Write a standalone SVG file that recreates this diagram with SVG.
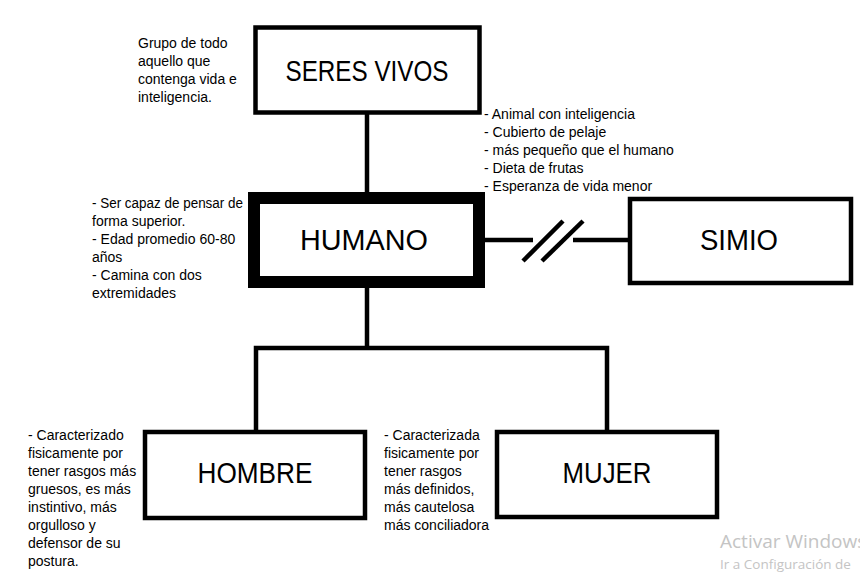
<svg xmlns="http://www.w3.org/2000/svg" width="860" height="583" viewBox="0 0 860 583">
<style>
.box{fill:#fff;stroke:#000;stroke-width:4.5}
.thick{fill:#fff;stroke:#000;stroke-width:12}
.lbl{font-family:"Liberation Sans",Arial,sans-serif;font-size:29px;fill:#000;text-anchor:middle}
.note{font-family:"Liberation Sans",Arial,sans-serif;font-size:14px;fill:#000}
.conn{stroke:#000;stroke-width:4.5;fill:none}
.wm1{font-family:"Open Sans","Liberation Sans",sans-serif;font-size:19px;fill:#c4c4c4}
.wm2{font-family:"Open Sans","Liberation Sans",sans-serif;font-size:13.5px;fill:#c4c4c4}
</style>
<rect width="860" height="583" fill="#fff"/>
<g id="connectors">
<line class="conn" x1="367" y1="113" x2="367" y2="193"/>
<line class="conn" x1="367" y1="288" x2="367" y2="348"/>
<polyline class="conn" points="256,432 256,348 607,348 607,432"/>
<line class="conn" x1="484" y1="240" x2="533" y2="240"/>
<line class="conn" x1="573" y1="240" x2="628" y2="240"/>
<line class="conn" x1="523" y1="261" x2="563" y2="221"/>
<line class="conn" x1="542" y1="261" x2="583" y2="221"/>
</g>
<g id="seres-vivos">
<rect class="box" x="255.5" y="27.5" width="224" height="85"/>
<text class="lbl" x="367" y="81" textLength="163" lengthAdjust="spacingAndGlyphs">SERES VIVOS</text>
</g>
<g id="humano">
<rect class="thick" x="254" y="198" width="225" height="84"/>
<text class="lbl" x="364" y="250" textLength="128" lengthAdjust="spacingAndGlyphs">HUMANO</text>
</g>
<g id="simio">
<rect class="box" x="630" y="199" width="221" height="84"/>
<text class="lbl" x="739" y="250" textLength="78" lengthAdjust="spacingAndGlyphs">SIMIO</text>
</g>
<g id="hombre">
<rect class="box" x="145" y="432" width="220" height="86"/>
<text class="lbl" x="255" y="483" textLength="115" lengthAdjust="spacingAndGlyphs">HOMBRE</text>
</g>
<g id="mujer">
<rect class="box" x="497" y="432" width="220" height="85"/>
<text class="lbl" x="607" y="483" textLength="89" lengthAdjust="spacingAndGlyphs">MUJER</text>
</g>
<g id="note-seres-vivos" class="note">
<text x="138" y="48">Grupo de todo</text>
<text x="138" y="66">aquello que</text>
<text x="138" y="84">contenga vida e</text>
<text x="138" y="102">inteligencia.</text>
</g>
<g id="note-simio" class="note">
<text x="484" y="119">- Animal con inteligencia</text>
<text x="484" y="137">- Cubierto de pelaje</text>
<text x="484" y="155">- más pequeño que el humano</text>
<text x="484" y="173">- Dieta de frutas</text>
<text x="484" y="191">- Esperanza de vida menor</text>
</g>
<g id="note-humano" class="note">
<text x="92" y="208" textLength="151" lengthAdjust="spacingAndGlyphs">- Ser capaz de pensar de</text>
<text x="92" y="226">forma superior.</text>
<text x="92" y="244">- Edad promedio 60-80</text>
<text x="92" y="262">años</text>
<text x="92" y="280">- Camina con dos</text>
<text x="92" y="298">extremidades</text>
</g>
<g id="note-hombre" class="note">
<text x="28" y="440">- Caracterizado</text>
<text x="28" y="458">fisicamente por</text>
<text x="28" y="476">tener rasgos más</text>
<text x="28" y="494">gruesos, es más</text>
<text x="28" y="512">instintivo, más</text>
<text x="28" y="530">orgulloso y</text>
<text x="28" y="548">defensor de su</text>
<text x="28" y="566">postura.</text>
</g>
<g id="note-mujer" class="note">
<text x="384" y="440">- Caracterizada</text>
<text x="384" y="458">fisicamente por</text>
<text x="384" y="476">tener rasgos</text>
<text x="384" y="494">más definidos,</text>
<text x="384" y="512">más cautelosa</text>
<text x="384" y="530">más conciliadora</text>
</g>
<g id="watermark">
<text class="wm1" x="720" y="548">Activar Windows</text>
<text class="wm2" x="720" y="569">Ir a Configuración de</text>
</g>
</svg>
